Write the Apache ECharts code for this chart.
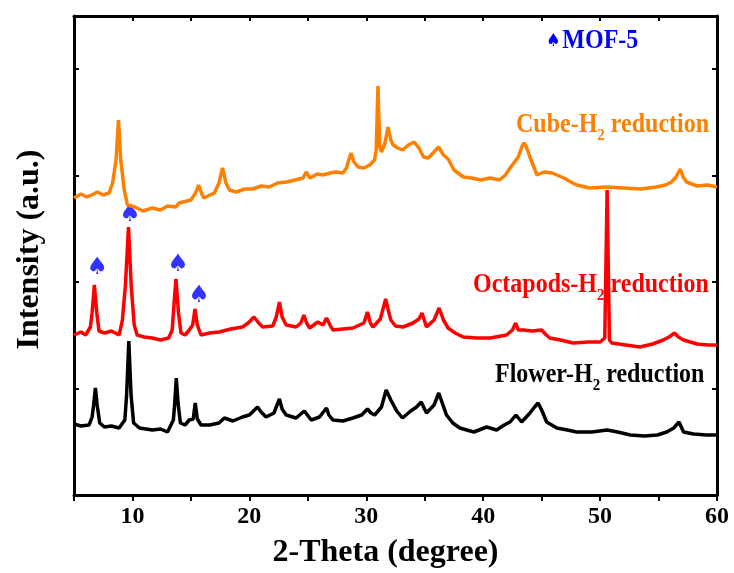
<!DOCTYPE html>
<html>
<head>
<meta charset="utf-8">
<script src="https://cdn.jsdelivr.net/npm/echarts@6/dist/echarts.min.js"></script>
<style>
  html, body { margin: 0; padding: 0; background: #fff; }
  #chart { width: 734px; height: 573px; }
</style>
</head>
<body>
<div id="chart"></div>
<script>
// 2-theta (degree), intensity (a.u.)
var cubeData = [
    [5.0, 297], [5.6, 301], [6.1, 298], [6.5, 300], [7.0, 303], [7.5, 300], [8.0, 302], [8.3, 312],
    [8.6, 335], [8.8, 375], [9.0, 335], [9.3, 305], [9.57, 290], [10.2, 288], [10.9, 284],
    [11.7, 287], [12.4, 285], [13.0, 289], [13.7, 288], [14.0, 292], [15.0, 295], [15.4, 302],
    [15.66, 310], [15.9, 302], [16.1, 297], [17.0, 302], [17.4, 312], [17.7, 327], [18.0, 312],
    [18.3, 305], [18.86, 303], [19.6, 306], [20.3, 306], [21.0, 309], [21.7, 308], [22.4, 312],
    [23.2, 313], [23.9, 315], [24.6, 317], [24.86, 323], [25.2, 317], [25.8, 321], [26.3, 320],
    [26.9, 322], [27.4, 323], [28.0, 322], [28.3, 327], [28.5, 335], [28.7, 342], [28.95, 333],
    [29.3, 328], [29.8, 327], [30.3, 330], [30.7, 335], [30.85, 345], [31.0, 409], [31.15, 348],
    [31.3, 343], [31.6, 352], [31.86, 368], [32.1, 355], [32.3, 350], [32.7, 347], [33.1, 345],
    [33.6, 350], [34.1, 353], [34.5, 347], [34.9, 338], [35.3, 337], [35.8, 343], [36.2, 348],
    [36.6, 340], [37.0, 336], [37.5, 325], [38.3, 318], [39.0, 317], [39.8, 315], [40.6, 317],
    [41.4, 315], [41.9, 320], [42.3, 327], [43.0, 338], [43.3, 348], [43.5, 352], [43.7, 348],
    [44.0, 338], [44.6, 320], [45.2, 323], [45.9, 322], [46.9, 317], [47.5, 313], [48.0, 310],
    [49.1, 307], [50.5, 308], [52.0, 307], [53.5, 306], [54.8, 308], [55.6, 310], [56.1, 313],
    [56.5, 318], [56.86, 326], [57.1, 318], [57.4, 313], [58.3, 309], [59.2, 310], [60.0, 308]
];
var octapodsData = [
    [5.0, 160], [5.6, 163], [6.0, 160], [6.4, 168], [6.55, 182], [6.74, 210], [6.95, 182],
    [7.14, 164], [7.6, 162], [8.2, 164], [8.86, 160], [9.14, 175], [9.4, 210], [9.66, 268],
    [9.9, 208], [10.15, 170], [10.4, 160], [11.0, 158], [11.7, 157], [12.4, 155], [13.1, 157],
    [13.4, 165], [13.5, 182], [13.72, 216], [13.94, 182], [14.15, 162], [14.5, 160],
    [14.86, 165], [15.15, 170], [15.35, 186], [15.55, 170], [15.86, 160], [16.6, 162],
    [17.43, 163], [18.4, 166], [19.4, 168], [19.9, 172], [20.4, 178], [20.8, 172], [21.14, 168],
    [22.0, 169], [22.3, 178], [22.57, 193], [22.8, 178], [23.15, 170], [24.0, 168], [24.4, 172],
    [24.66, 180], [24.9, 172], [25.15, 167], [25.86, 173], [26.3, 170], [26.6, 177], [26.9, 170],
    [27.14, 165], [28.0, 166], [28.86, 167], [29.8, 172], [30.1, 183], [30.35, 172], [30.57, 168],
    [31.2, 176], [31.66, 196], [31.9, 184], [32.1, 175], [32.5, 169], [33.14, 168], [34.0, 172],
    [34.5, 176], [34.77, 182], [35.15, 168], [35.8, 175], [36.23, 187], [36.6, 175], [37.0, 167],
    [37.6, 162], [38.3, 158], [39.5, 157], [40.6, 157], [42.0, 160], [42.5, 165], [42.78, 172],
    [43.0, 165], [43.43, 165], [44.2, 164], [45.0, 165], [45.4, 160], [45.7, 157], [46.6, 155],
    [47.7, 152], [49.0, 153], [50.0, 153], [50.4, 157], [50.6, 305], [50.8, 155], [51.0, 152],
    [52.2, 150], [53.4, 148], [54.5, 151], [55.4, 155], [55.9, 158], [56.37, 162], [56.7, 158],
    [57.14, 155], [58.3, 151], [59.2, 150], [60.0, 150]
];
var flowerData = [
    [5.0, 71], [5.6, 69], [6.29, 70], [6.55, 78], [6.68, 90], [6.83, 107], [6.98, 90],
    [7.2, 72], [7.6, 68], [8.2, 69], [8.86, 67], [9.35, 75], [9.5, 100], [9.69, 154],
    [9.88, 100], [10.1, 72], [10.6, 67], [11.7, 65], [12.4, 66], [13.0, 63], [13.5, 75],
    [13.62, 92], [13.75, 117], [13.9, 92], [14.1, 72], [14.5, 70], [14.86, 75], [15.2, 76],
    [15.37, 92], [15.55, 76], [15.86, 70], [16.6, 70], [17.4, 72], [17.86, 77], [18.6, 74],
    [19.4, 78], [20.0, 80], [20.7, 88], [21.0, 83], [21.43, 78], [22.1, 82], [22.57, 96],
    [22.8, 86], [23.15, 80], [24.0, 77], [24.7, 84], [25.29, 75], [26.0, 78], [26.6, 87],
    [26.8, 80], [27.14, 75], [28.0, 74], [28.86, 77], [29.6, 80], [30.1, 86], [30.4, 82],
    [30.72, 80], [31.3, 88], [31.7, 105], [32.1, 95], [32.6, 84], [33.1, 77], [33.8, 84],
    [34.3, 88], [34.7, 93], [35.15, 82], [35.8, 90], [36.2, 102], [36.5, 92], [36.86, 80],
    [37.4, 72], [38.0, 67], [39.2, 63], [40.3, 68], [41.15, 65], [41.8, 70], [42.3, 73],
    [42.8, 80], [43.29, 73], [44.0, 82], [44.4, 88], [44.7, 92], [45.0, 85], [45.43, 73],
    [46.3, 67], [47.2, 65], [48.0, 63], [49.3, 63], [50.6, 65], [51.5, 63], [52.6, 60],
    [53.8, 59], [54.9, 60], [55.7, 63], [56.3, 67], [56.75, 73], [57.14, 63], [58.0, 61],
    [59.1, 60], [60.0, 60]
];
// MOF-5 reflections marked with a spade
var mofMarks = [[7.0, 227], [9.8, 280], [13.9, 230], [15.7, 199]];

var serif = '"Liberation Serif", "Times New Roman", serif';
var chart = echarts.init(document.getElementById('chart'));

function frameAxis(pos, extra) {
    var a = {
        position: pos,
        axisLine: { show: true, onZero: false, lineStyle: { color: '#000', width: 3 } },
        axisTick: { show: true, inside: true, length: 5, lineStyle: { color: '#000', width: 2 } },
        axisLabel: { show: false },
        splitLine: { show: false }
    };
    return Object.assign(a, extra);
}

function curveLabel(name, color, left, top) {
    var a = { fontFamily: serif, fontWeight: 'bold', fontSize: 24, fill: color, lineHeight: 34, verticalAlign: 'middle' };
    var s = { fontFamily: serif, fontWeight: 'bold', fontSize: 15, fill: color, lineHeight: 34, verticalAlign: 'bottom' };
    return {
        type: 'text', left: left, top: top, scaleY: 1.12, originY: 17,
        style: { text: '{a|' + name + '-H}{s|2}{a| reduction}', rich: { a: a, s: s } }
    };
}

chart.setOption({
    backgroundColor: '#fff',
    animation: false,
    grid: { left: 74, right: 17, top: 16, bottom: 78, outerBoundsMode: 'none' },
    xAxis: [
        {
            type: 'value', position: 'bottom', min: 5, max: 60, interval: 5,
            name: '2-Theta (degree)', nameLocation: 'middle', nameGap: 42,
            nameTextStyle: { fontFamily: serif, fontWeight: 'bold', fontSize: 32, color: '#000', padding: [0, 20, 0, 0] },
            axisLine: { show: true, onZero: false, lineStyle: { color: '#000', width: 3 } },
            axisTick: { show: true, inside: false, length: 6, lineStyle: { color: '#000', width: 2 } },
            axisLabel: {
                margin: 10, fontFamily: serif, fontWeight: 'bold', fontSize: 24, color: '#000',
                formatter: function (v) { return v % 10 === 0 ? String(v) : ''; }
            },
            splitLine: { show: false }
        },
        frameAxis('top', { type: 'value', min: 5, max: 60, interval: 5 })
    ],
    yAxis: [
        frameAxis('left', {
            type: 'value', min: 0, max: 479, interval: 106.5,
            name: 'Intensity (a.u.)', nameLocation: 'middle', nameGap: 28,
            nameTextStyle: { fontFamily: serif, fontWeight: 'bold', fontSize: 32, color: '#000', padding: [0, 0, 0, 12] }
        }),
        frameAxis('right', { type: 'value', min: 0, max: 479, interval: 106.5 })
    ],
    series: [
        { type: 'line', data: flowerData, showSymbol: false, lineStyle: { color: '#000', width: 3.5 } },
        { type: 'line', data: octapodsData, showSymbol: false, lineStyle: { color: '#ff0000', width: 3.5 } },
        { type: 'line', data: cubeData, showSymbol: false, lineStyle: { color: '#ff8000', width: 3.5 } },
        {
            type: 'scatter', data: mofMarks, symbolSize: 0,
            label: {
                show: true, position: 'inside', formatter: '\u2660',
                fontFamily: '"DejaVu Sans"', fontSize: 24, color: '#0000ff'
            }
        }
    ],
    graphic: [
        {
            type: 'text', left: 546, top: 28, scaleY: 1.12, originY: 14,
            style: {
                text: '{sp|\u2660}{t|MOF-5}', fill: '#0000ff',
                rich: {
                    sp: { fontFamily: '"DejaVu Sans"', fontSize: 16, fill: '#0000ff', lineHeight: 28, padding: [0, 2, 0, 0] },
                    t: { fontFamily: serif, fontWeight: 'bold', fontSize: 24, fill: '#0000ff', lineHeight: 28 }
                }
            }
        },
        curveLabel('Cube', '#ff8000', 516, 112),
        curveLabel('Octapods', '#ff0000', 473, 272),
        curveLabel('Flower', '#000', 495, 362)
    ]
});
</script>
</body>
</html>
